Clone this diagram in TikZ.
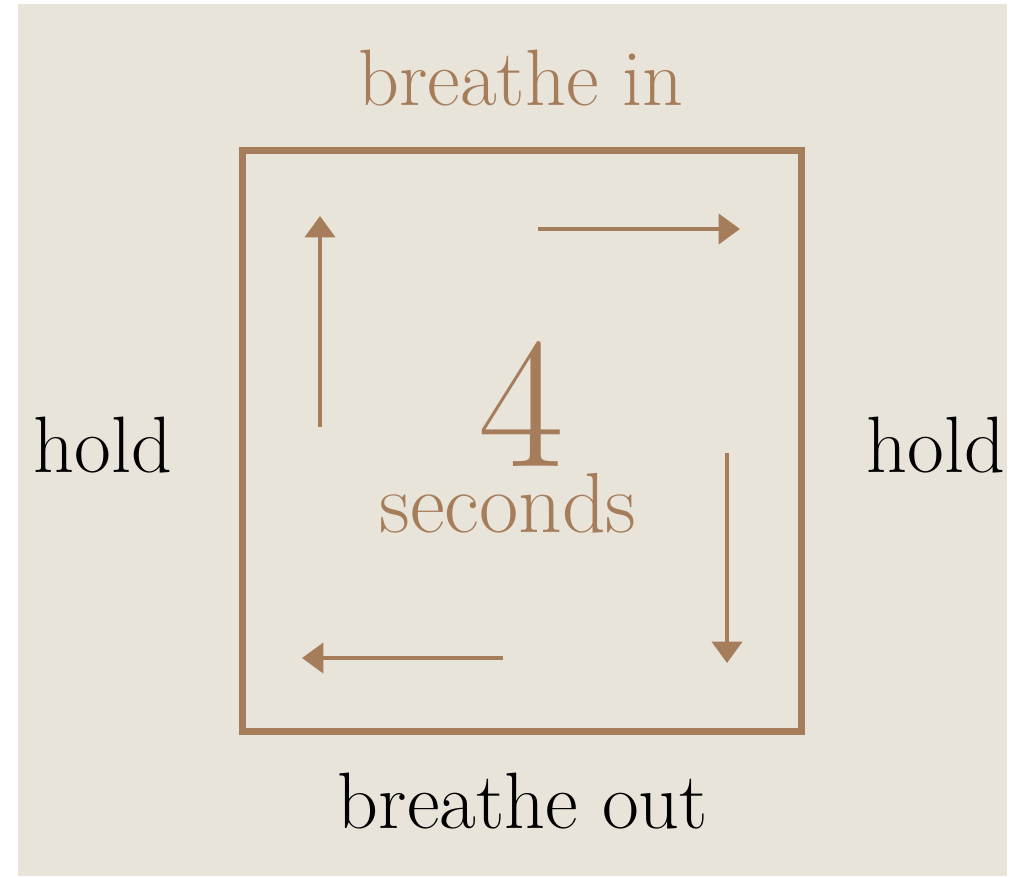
\documentclass[tikz,border=0pt]{standalone}
\usepackage{fontspec}
\usetikzlibrary{arrows.meta}
\definecolor{sand}{HTML}{E9E4DA}
\definecolor{boxtan}{HTML}{A67D5B}
\tikzset{lbl/.style={anchor=base,inner sep=0pt,font=\fontsize{60}{66}\selectfont},
  flow/.style={line width=3pt,color=boxtan,-{Triangle[width=22.5pt,length=16pt]}}}
\begin{document}
\begin{tikzpicture}[x=0.75pt,y=-0.75pt]
\useasboundingbox(0,0)rectangle(1010,876);
\fill[white](0,0)rectangle(1010,876);\fill[sand](18,4)rectangle(1007,876);
\draw[boxtan,line width=5.25pt](242,150.5)rectangle(801,731);
% labels
\node[lbl,text=boxtan](in)at(521,105){breathe in};
\node[lbl](holdl)at(103,472){hold};\node[lbl](holdr)at(936,472){hold};
\node[lbl](out)at(523,828){breathe out};
\node[anchor=base,inner sep=0pt,text=boxtan,font=\fontsize{140}{150}\selectfont](four)at(521,466){4};
\node[anchor=base,inner sep=0pt,text=boxtan,font=\fontsize{64}{70}\selectfont](sec)at(508,532){seconds};
% arrows
\coordinate(a1)at(320,427);\coordinate(a2)at(320,216);
\coordinate(b1)at(538,229);\coordinate(b2)at(740,229);
\coordinate(c1)at(727,453);\coordinate(c2)at(727,663);
\coordinate(d1)at(503,658);\coordinate(d2)at(302,658);
\draw[flow](a1)--(a2);\draw[flow](b1)--(b2);\draw[flow](c1)--(c2);\draw[flow](d1)--(d2);
\end{tikzpicture}
\end{document}
